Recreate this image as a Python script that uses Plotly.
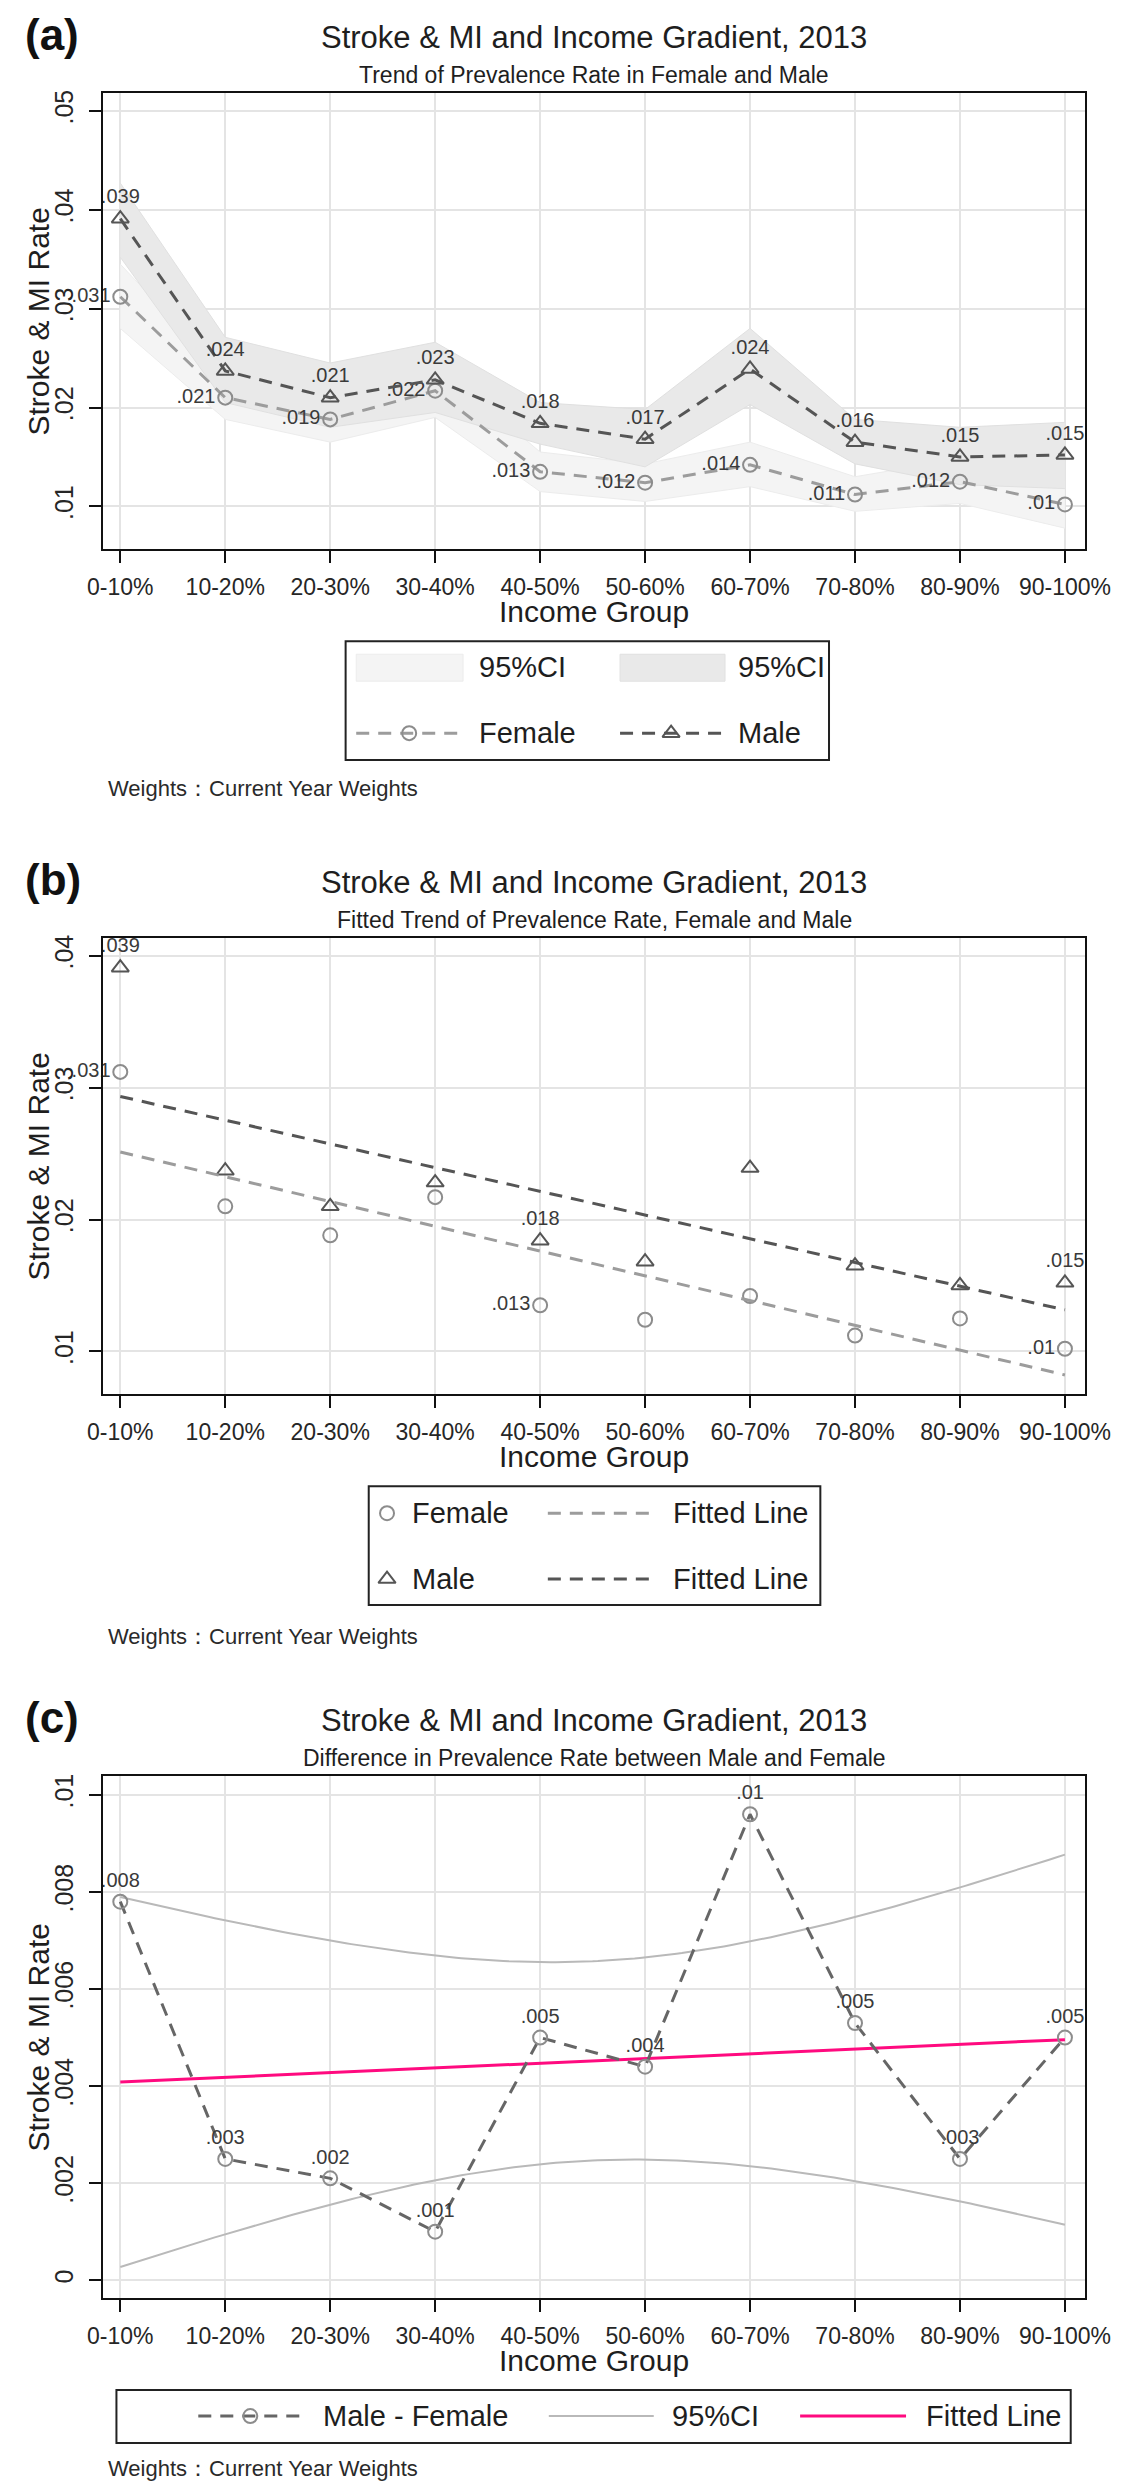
import numpy as np
import plotly.graph_objects as go

W, H = 1133, 2481
FONT = "Liberation Sans, Arial, sans-serif"

# ---------------- data ----------------
income_groups = ["0-10%", "10-20%", "20-30%", "30-40%", "40-50%",
                 "50-60%", "60-70%", "70-80%", "80-90%", "90-100%"]

female_rate = [0.0312, 0.0210, 0.0188, 0.0217, 0.0135, 0.0124, 0.0142, 0.0112, 0.0125, 0.0102]
male_rate = [0.0391, 0.0237, 0.0210, 0.0228, 0.0184, 0.0168, 0.0239, 0.0165, 0.0150, 0.0152]

female_ci_low = [0.0280, 0.0188, 0.0165, 0.0190, 0.0115, 0.0105, 0.0120, 0.0095, 0.0103, 0.0078]
female_ci_high = [0.0345, 0.0232, 0.0212, 0.0245, 0.0155, 0.0143, 0.0165, 0.0130, 0.0148, 0.0125]
male_ci_low = [0.0352, 0.0205, 0.0180, 0.0195, 0.0163, 0.0140, 0.0203, 0.0143, 0.0122, 0.0118]
male_ci_high = [0.0427, 0.0271, 0.0245, 0.0266, 0.0205, 0.0198, 0.0280, 0.0188, 0.0180, 0.0185]

diff_rate = [0.0078, 0.0025, 0.0021, 0.0010, 0.0050, 0.0044, 0.0096, 0.0053, 0.0025, 0.0050]

female_labels = [".031", ".021", ".019", ".022", ".013", ".012", ".014", ".011", ".012", ".01"]
male_labels = [".039", ".024", ".021", ".023", ".018", ".017", ".024", ".016", ".015", ".015"]
female_labels_b = [".031", "", "", "", ".013", "", "", "", "", ".01"]
male_labels_b = [".039", "", "", "", ".018", "", "", "", "", ".015"]
diff_labels = [".008", ".003", ".002", ".001", ".005", ".004", ".01", ".005", ".003", ".005"]

yticks_a = [0.01, 0.02, 0.03, 0.04, 0.05]
yticks_a_text = [".01", ".02", ".03", ".04", ".05"]
yticks_b = [0.01, 0.02, 0.03, 0.04]
yticks_b_text = [".01", ".02", ".03", ".04"]
yticks_c = [0, 0.002, 0.004, 0.006, 0.008, 0.01]
yticks_c_text = ["0", ".002", ".004", ".006", ".008", ".01"]

T_CRIT_DF8 = 2.306  # Student t, 97.5%, df = n-2 = 8

x_idx = np.arange(len(income_groups), dtype=float)

# ---------------- fitted lines (OLS on the values above) ----------------
def ols(x, y):
    b, a = np.polyfit(x, y, 1)
    return a, b

fa, fb = ols(x_idx, female_rate)
ma, mb = ols(x_idx, male_rate)
da, db = ols(x_idx, diff_rate)

x_fit = np.array([x_idx[0], x_idx[-1]])
x_grid = np.linspace(x_idx[0], x_idx[-1], 181)
n = len(x_idx)
resid = np.asarray(diff_rate) - (da + db * x_idx)
s = np.sqrt(np.sum(resid ** 2) / (n - 2))
sxx = np.sum((x_idx - x_idx.mean()) ** 2)
se = s * np.sqrt(1.0 / n + (x_grid - x_idx.mean()) ** 2 / sxx)
ci_up = da + db * x_grid + T_CRIT_DF8 * se
ci_lo = da + db * x_grid - T_CRIT_DF8 * se

# ---------------- layout geometry (pixels) ----------------
PL, PR = 82, 1102
CAT0_PX, CAT_STEP = 100, 109.0
PANELS = {"a": (82, 539), "b": (928, 1385), "c": (1767, 2290)}
YSCALE = {  # (ref value, ref pixel, pixels per unit)
    "a": (0.01, 496, 9900.0),
    "b": (0.01, 1342, 13200.0),
    "c": (0.0, 2272, 48600.0),
}

def py(y):
    return 1 - y / H

xr = [(PL - CAT0_PX) / CAT_STEP, (PR - CAT0_PX) / CAT_STEP]

def yrange(p):
    top, bot = PANELS[p]
    v, pix, k = YSCALE[p]
    return [v - (bot - pix) / k, v + (pix - top) / k]

fig = go.Figure()

GRID = "#e4e4e4"
FEM_LINE = "#9c9c9c"
FEM_MARK = "#8c8c8c"
MALE_COL = "#555555"
LABEL_FONT = dict(family=FONT, size=20, color="#3a3a3a")
DASH = "13px,9px"

# ---- panel (a) ----
fig.add_trace(go.Scatter(x=x_idx, y=female_ci_low, mode="lines", line=dict(color="#ececec", width=1),
                         xaxis="x", yaxis="y", showlegend=False, hoverinfo="skip"))
fig.add_trace(go.Scatter(x=x_idx, y=female_ci_high, mode="lines", line=dict(color="#ececec", width=1),
                         fill="tonexty", fillcolor="#f4f4f4", xaxis="x", yaxis="y", showlegend=False,
                         hoverinfo="skip"))
fig.add_trace(go.Scatter(x=x_idx, y=male_ci_low, mode="lines", line=dict(color="#e0e0e0", width=1),
                         xaxis="x", yaxis="y", showlegend=False, hoverinfo="skip"))
fig.add_trace(go.Scatter(x=x_idx, y=male_ci_high, mode="lines", line=dict(color="#e0e0e0", width=1),
                         fill="tonexty", fillcolor="#e9e9e9", xaxis="x", yaxis="y", showlegend=False,
                         hoverinfo="skip"))
fig.add_trace(go.Scatter(x=x_idx, y=female_rate, mode="lines+markers+text", text=female_labels,
                         textposition="middle left", textfont=LABEL_FONT, cliponaxis=False,
                         line=dict(color=FEM_LINE, width=3, dash=DASH),
                         marker=dict(symbol="circle-open", size=14, color=FEM_MARK, line=dict(width=2)),
                         xaxis="x", yaxis="y", showlegend=False))
fig.add_trace(go.Scatter(x=x_idx, y=male_rate, mode="lines+markers+text", text=male_labels,
                         textposition="top center", textfont=LABEL_FONT, cliponaxis=False,
                         line=dict(color=MALE_COL, width=3, dash=DASH),
                         marker=dict(symbol="triangle-up-open", size=15, color=MALE_COL, line=dict(width=2)),
                         xaxis="x", yaxis="y", showlegend=False))

# ---- panel (b) ----
fig.add_trace(go.Scatter(x=x_idx, y=female_rate, mode="markers+text", text=female_labels_b,
                         textposition="middle left", textfont=LABEL_FONT, cliponaxis=False,
                         marker=dict(symbol="circle-open", size=14, color=FEM_MARK, line=dict(width=2)),
                         xaxis="x2", yaxis="y2", showlegend=False))
fig.add_trace(go.Scatter(x=x_idx, y=male_rate, mode="markers+text", text=male_labels_b,
                         textposition="top center", textfont=LABEL_FONT, cliponaxis=False,
                         marker=dict(symbol="triangle-up-open", size=15, color=MALE_COL, line=dict(width=2)),
                         xaxis="x2", yaxis="y2", showlegend=False))
fig.add_trace(go.Scatter(x=x_fit, y=fa + fb * x_fit, mode="lines",
                         line=dict(color=FEM_LINE, width=3, dash=DASH),
                         xaxis="x2", yaxis="y2", showlegend=False))
fig.add_trace(go.Scatter(x=x_fit, y=ma + mb * x_fit, mode="lines",
                         line=dict(color=MALE_COL, width=3, dash=DASH),
                         xaxis="x2", yaxis="y2", showlegend=False))

# ---- panel (c) ----
fig.add_trace(go.Scatter(x=x_grid, y=ci_up, mode="lines", line=dict(color="#b9b9b9", width=2),
                         xaxis="x3", yaxis="y3", showlegend=False))
fig.add_trace(go.Scatter(x=x_grid, y=ci_lo, mode="lines", line=dict(color="#b9b9b9", width=2),
                         xaxis="x3", yaxis="y3", showlegend=False))
fig.add_trace(go.Scatter(x=x_fit, y=da + db * x_fit, mode="lines", line=dict(color="#ff0a7f", width=3),
                         xaxis="x3", yaxis="y3", showlegend=False))
fig.add_trace(go.Scatter(x=x_idx, y=diff_rate, mode="lines+markers+text", text=diff_labels,
                         textposition="top center", textfont=LABEL_FONT, cliponaxis=False,
                         line=dict(color="#666666", width=3, dash=DASH),
                         marker=dict(symbol="circle-open", size=14, color=FEM_MARK, line=dict(width=2)),
                         xaxis="x3", yaxis="y3", showlegend=False))

# ---------------- axes ----------------
def xaxis_cfg(p, anchor):
    return dict(domain=[PL / W, PR / W], range=xr, anchor=anchor,
                tickmode="array", tickvals=list(x_idx), ticktext=income_groups,
                tickfont=dict(family=FONT, size=23, color="#262626"),
                showgrid=True, gridcolor=GRID, gridwidth=2, zeroline=False,
                ticks="outside", ticklen=12, tickwidth=2, tickcolor="#111",
                showline=True, linecolor="#111", linewidth=2, mirror=True,
                ticklabelstandoff=4, fixedrange=True)

def yaxis_cfg(p, anchor, tv, tt):
    top, bot = PANELS[p]
    return dict(domain=[py(bot), py(top)], range=yrange(p), anchor=anchor,
                tickmode="array", tickvals=tv, ticktext=tt, tickangle=-90,
                tickfont=dict(family=FONT, size=25, color="#262626"),
                showgrid=True, gridcolor=GRID, gridwidth=2, zeroline=False,
                ticks="outside", ticklen=12, tickwidth=2, tickcolor="#111",
                showline=True, linecolor="#111", linewidth=2, mirror=True,
                ticklabelstandoff=6, fixedrange=True)

fig.update_layout(
    width=W, height=H, margin=dict(l=0, r=0, t=0, b=0),
    paper_bgcolor="white", plot_bgcolor="rgba(0,0,0,0)",
    font=dict(family=FONT, color="#222"),
    showlegend=False,
    xaxis=xaxis_cfg("a", "y"), yaxis=yaxis_cfg("a", "x", yticks_a, yticks_a_text),
    xaxis2=xaxis_cfg("b", "y2"), yaxis2=yaxis_cfg("b", "x2", yticks_b, yticks_b_text),
    xaxis3=xaxis_cfg("c", "y3"), yaxis3=yaxis_cfg("c", "x3", yticks_c, yticks_c_text),
    xaxis4=dict(domain=[0, 1], range=[0, W], anchor="y4", visible=False, fixedrange=True),
    yaxis4=dict(domain=[0, 1], range=[H, 0], anchor="x4", visible=False, fixedrange=True),
)

# ---------------- text (pixel positions on overlay axes) ----------------
ann = []
def text(x, y, s, size, xanchor="center", angle=0, bold=False, color="#1e1e1e"):
    ann.append(dict(x=x, y=y, xref="x4", yref="y4", text=("<b>%s</b>" % s) if bold else s,
                    showarrow=False, xanchor=xanchor, yanchor="middle", textangle=angle,
                    borderpad=0,
                    font=dict(family=FONT, size=size, color=color)))

CX = (PL + PR) / 2
subtitles = {"a": "Trend of Prevalence Rate in Female and Male",
             "b": "Fitted Trend of Prevalence Rate, Female and Male",
             "c": "Difference in Prevalence Rate between Male and Female"}
letters = {"a": "(a)", "b": "(b)", "c": "(c)"}
for p, (top, bot) in PANELS.items():
    text(CX, top - 55, "Stroke &amp; MI and Income Gradient, 2013", 31)
    text(CX, top - 18, subtitles[p], 23)
    text(0, top - 58, letters[p], 44, xanchor="left", bold=True, color="#111")
    text(15, (top + bot) / 2, "Stroke &amp; MI Rate", 30, angle=-90)
    text(CX, bot + 62, "Income Group", 30)

weights_y = {"a": 778, "b": 1627, "c": 2460}
for p, yv in weights_y.items():
    text(86, yv, "Weights\uff1aCurrent Year Weights", 22, xanchor="left", color="#2a2a2a")

shapes = []
def box(x0, y0, x1, y1):
    shapes.append(dict(type="rect", xref="x4", yref="y4", x0=x0, y0=y0, x1=x1, y1=y1,
                       line=dict(color="#222", width=2), fillcolor="rgba(0,0,0,0)"))

def swatch(x0, y0, x1, y1, fill, edge):
    shapes.append(dict(type="rect", xref="x4", yref="y4", x0=x0, y0=y0, x1=x1, y1=y1,
                       line=dict(color=edge, width=1), fillcolor=fill, layer="below"))

def sample_line(x0, x1, y, color, dash=None, width=3):
    fig.add_trace(go.Scatter(x=[x0, x1], y=[y, y], mode="lines",
                             line=dict(color=color, width=width, dash=dash),
                             xaxis="x4", yaxis="y4", showlegend=False, hoverinfo="skip"))

def sample_marker(x, y, symbol, color, size):
    fig.add_trace(go.Scatter(x=[x], y=[y], mode="markers",
                             marker=dict(symbol=symbol, size=size, color=color, line=dict(width=2)),
                             xaxis="x4", yaxis="y4", showlegend=False, hoverinfo="skip"))

LEG = 29
# legend (a)
box(334, 631, 836, 750)
swatch(345, 644, 456, 671, "#f4f4f4", "#ececec")
text(471, 657, "95%CI", LEG, xanchor="left")
swatch(619, 644, 728, 671, "#e9e9e9", "#e0e0e0")
text(740, 657, "95%CI", LEG, xanchor="left")
sample_line(345, 456, 723, FEM_LINE, DASH)
sample_marker(400, 723, "circle-open", FEM_MARK, 14)
text(471, 723, "Female", LEG, xanchor="left")
sample_line(619, 728, 723, MALE_COL, DASH)
sample_marker(672, 723, "triangle-up-open", MALE_COL, 15)
text(740, 723, "Male", LEG, xanchor="left")

# legend (b)
box(358, 1477, 827, 1596)
sample_marker(377, 1504, "circle-open", FEM_MARK, 14)
text(402, 1504, "Female", LEG, xanchor="left")
sample_line(544, 655, 1504, FEM_LINE, DASH)
text(673, 1504, "Fitted Line", LEG, xanchor="left")
sample_marker(377, 1570, "triangle-up-open", MALE_COL, 15)
text(402, 1570, "Male", LEG, xanchor="left")
sample_line(544, 655, 1570, MALE_COL, DASH)
text(673, 1570, "Fitted Line", LEG, xanchor="left")

# legend (c)
box(96, 2382, 1087, 2435)
sample_line(181, 289, 2408, "#666666", DASH)
sample_marker(235, 2408, "circle-open", FEM_MARK, 14)
text(309, 2408, "Male - Female", LEG, xanchor="left")
sample_line(545, 654, 2408, "#b9b9b9", None, 2)
text(672, 2408, "95%CI", LEG, xanchor="left")
sample_line(806, 916, 2408, "#ff0a7f", None, 3)
text(936, 2408, "Fitted Line", LEG, xanchor="left")

fig.update_layout(annotations=ann, shapes=shapes)

fig.write_html("out.html", config={"displayModeBar": False})
